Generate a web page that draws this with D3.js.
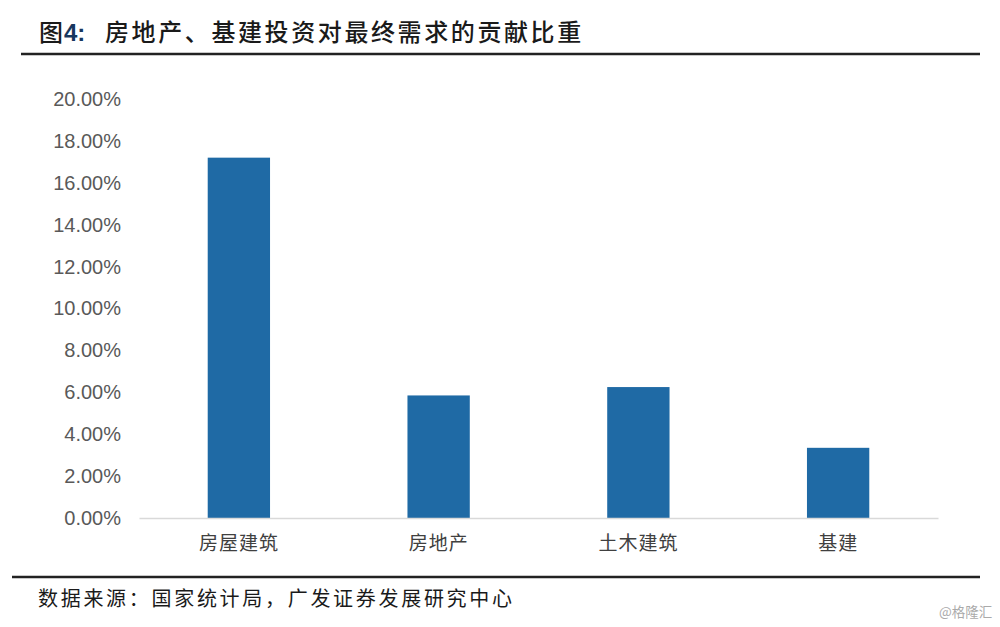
<!DOCTYPE html>
<html>
<head>
<meta charset="utf-8">
<script src="https://cdn.jsdelivr.net/npm/d3@7"></script>
<style>
  html, body { margin: 0; padding: 0; background: #fff; }
  text { font-family: "Noto Sans CJK SC", sans-serif; }
</style>
</head>
<body>
<div id="chart"></div>
<script>
var categories = ['房屋建筑', '房地产', '土木建筑', '基建']
var shares = [17.2, 5.85, 6.25, 3.35]
var yTicks = [0, 2, 4, 6, 8, 10, 12, 14, 16, 18, 20]

var titleLabel = '图'
var titleNum = '4:'
var titleText = '房地产、基建投资对最终需求的贡献比重'
var sourceText = '数据来源：国家统计局，广发证券发展研究中心'
var watermark = '@格隆汇'

var svg = d3.select('#chart').append('svg')
    .attr('width', 1000)
    .attr('height', 627)
    .style('display', 'block')

var x = d3.scaleBand().domain(categories).range([139, 938]).paddingInner(0.688).paddingOuter(0.344)
var y = d3.scaleLinear().domain([0, 20]).range([518, 99])

// title
var title = svg.append('text').attr('x', 39).attr('y', 41).attr('font-size', 24).attr('font-weight', 500).attr('fill', '#1a1a1a')
title.append('tspan').text(titleLabel)
title.append('tspan').attr('x', 64).attr('font-family', 'Liberation Sans').attr('font-weight', 700).attr('fill', '#17375e').text(titleNum)
title.append('tspan').attr('x', 105).attr('letter-spacing', 2.6).text(titleText)

svg.append('line').attr('x1', 21).attr('x2', 980).attr('y1', 54).attr('y2', 54).attr('stroke', '#222').attr('stroke-width', 2.5)
svg.append('line').attr('x1', 12).attr('x2', 980).attr('y1', 577).attr('y2', 577).attr('stroke', '#222').attr('stroke-width', 2.5)

// y axis, labels only
var yAxis = d3.axisLeft(y).tickValues(yTicks).tickSize(0).tickPadding(18).tickFormat(function(d) { return d.toFixed(2) + '%' })
var gy = svg.append('g').attr('transform', 'translate(139,0)').call(yAxis)
gy.select('.domain').remove()
gy.selectAll('text').attr('font-size', 20).attr('fill', '#595959').style('font-family', 'Liberation Sans')

// bars
svg.selectAll('rect.bar').data(categories).enter().append('rect')
    .attr('class', 'bar')
    .attr('x', function(d) { return x(d) })
    .attr('width', x.bandwidth())
    .attr('y', function(d, i) { return y(shares[i]) })
    .attr('height', function(d, i) { return y(0) - y(shares[i]) })
    .attr('fill', '#1f6aa5')

// x axis
var xAxis = d3.axisBottom(x).tickSize(0).tickPadding(19)
var gx = svg.append('g').attr('transform', 'translate(0,518)').call(xAxis)
gx.select('.domain').attr('stroke', '#d9d9d9').attr('stroke-width', 1.5)
gx.selectAll('text').attr('font-size', 19).attr('fill', '#404040').attr('letter-spacing', 1).style('font-family', '"Noto Sans CJK SC"')

svg.append('text').attr('x', 38).attr('y', 606).attr('font-size', 20).attr('fill', '#1a1a1a').attr('letter-spacing', 2.7).text(sourceText)
svg.append('text').attr('x', 939).attr('y', 617).attr('font-size', 13.5).attr('fill', '#aaa').text(watermark)
</script>
</body>
</html>
